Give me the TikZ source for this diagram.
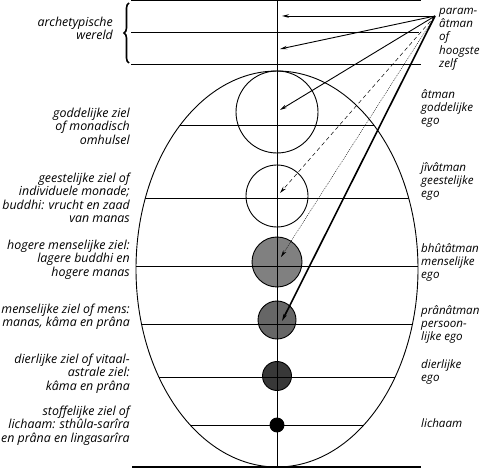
\documentclass[tikz,border=0pt]{standalone}
\usepackage{fontspec}
\setmainfont{Open Sans}
\usetikzlibrary{arrows.meta,decorations.pathreplacing}
\begin{document}
\begin{tikzpicture}[x=1pt,y=-1pt,
  lbl/.style={font=\itshape\fontsize{12.4}{13.2}\selectfont, inner sep=0pt},
  lft/.style={lbl, align=right, anchor=north east},
  rgt/.style={lbl, font=\itshape\fontsize{11.6}{13.2}\selectfont, align=left, anchor=north west},
  thinline/.style={line width=0.9pt},
  arr/.style={line width=0.9pt, -{Stealth[length=7pt,width=3.5pt]}},
  ball/.style={circle, draw, line width=0.9pt, inner sep=0pt}]
\useasboundingbox (0,0) rectangle (482,470);
% circles
\node[ball, minimum size=82pt, fill=white] (c1) at (277,112) {};
\node[ball, minimum size=62pt, fill=white] (c2) at (277,196) {};
\node[ball, minimum size=50pt, fill=black!50] (c3) at (277,262) {};
\node[ball, minimum size=38pt, fill=black!60] (c4) at (277,320) {};
\node[ball, minimum size=29pt, fill=black!78] (c5) at (277,376) {};
\node[ball, minimum size=14pt, fill=black] (c6) at (277,425) {};
% ellipse and chords
\draw[thinline] (277,269) ellipse [x radius=141, y radius=198];
\begin{scope}
\clip (277,269) ellipse [x radius=141, y radius=198];
\foreach \yy in {125,198,266,324,377,425}
  \draw[thinline] (100,\yy) -- (460,\yy);
\end{scope}
% top lines
\draw[thinline] (131,0.5) -- (421,0.5);
\draw[thinline] (131,32.5) -- (419,32.5);
\draw[thinline] (131,64) -- (421,64);
\draw[line width=2pt] (132,467) -- (421,467);
% axis
\coordinate (axtop) at (277,0);
\coordinate (axbot) at (277,467);
\draw[thinline] (axtop) -- (axbot);
% brace
\draw[line width=1.6pt, decorate, decoration={brace, amplitude=5pt}] (129,63) -- (129,3);
% arrows
\coordinate (apex) at (435,16);
\coordinate (t1) at (282,16);
\coordinate (t2) at (280,49);
\coordinate (t3) at (280,110);
\coordinate (t4) at (280,193);
\coordinate (t5) at (281,257);
\coordinate (t6) at (282,321);
\draw[arr] (apex) -- (t1);
\draw[arr] (apex) -- (t2);
\draw[arr] (apex) -- (t3);
\draw[arr, line width=0.5pt, dash pattern=on 4pt off 3pt] (apex) -- (t4);
\draw[arr, line width=0.4pt, dash pattern=on 1pt off 1pt] (apex) -- (t5);
\draw[arr, line width=1.6pt] (apex) -- (t6);
% left labels
\node[lft] (l0) at (113,17) {archetypische\\wereld};
\node[lft] (l1) at (130,108) {goddelijke ziel\\of monadisch\\omhulsel};
\node[lft] (l2) at (130,173) {geestelijke ziel of\\individuele monade;\\buddhi: vrucht en zaad\\van manas};
\node[lft] (l3) at (130,240) {hogere menselijke ziel:\\lagere buddhi en\\hogere manas};
\node[lft] (l4) at (130,304) {menselijke ziel of mens:\\manas, kâma en prâna};
\node[lft] (l5) at (130,354) {dierlijke ziel of vitaal-\\astrale ziel:\\kâma en prâna};
\node[lft] (l6) at (130,406) {stoffelijke ziel of\\lichaam: sthûla-sarîra\\en prâna en lingasarîra};
% right labels
\node[rgt] (r0) at (439,8) {param-\\âtman\\of\\hoogste\\zelf};
\node[rgt] (r1) at (421,89) {âtman\\goddelijke\\ego};
\node[rgt] (r2) at (421,162) {jîvâtman\\geestelijke\\ego};
\node[rgt] (r3) at (421,243) {bhûtâtman\\menselijke\\ego};
\node[rgt] (r4) at (421,305) {prânâtman\\persoon-\\lijke ego};
\node[rgt] (r5) at (421,359) {dierlijke\\ego};
\node[rgt] (r6) at (421,418) {lichaam};
\end{tikzpicture}
\end{document}
